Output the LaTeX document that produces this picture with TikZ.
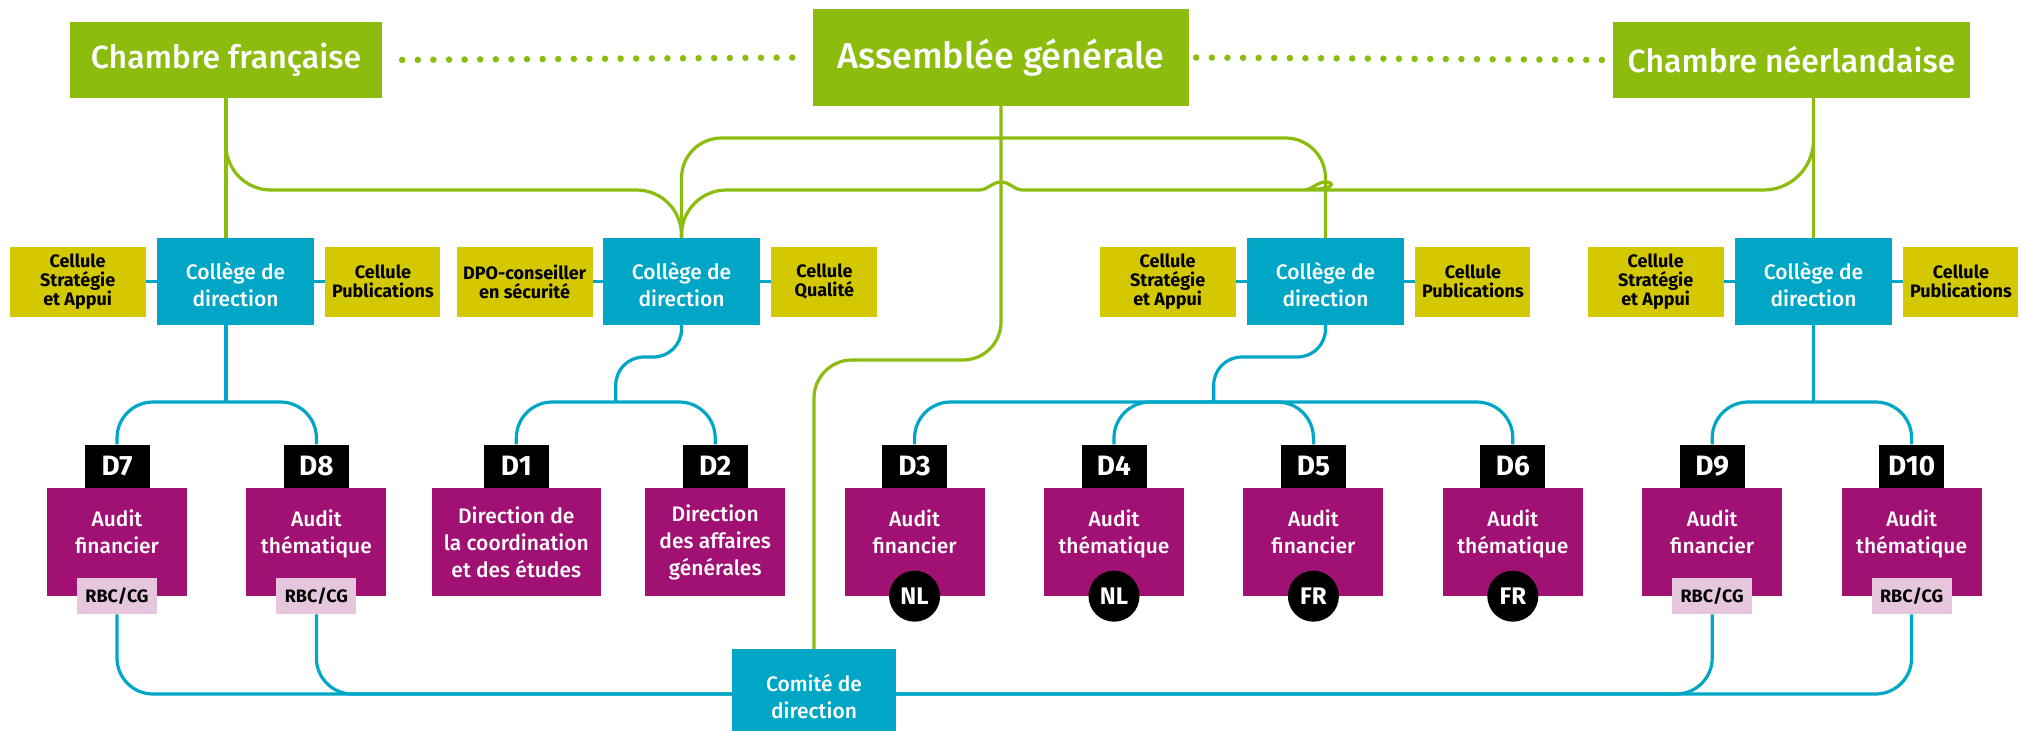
\documentclass[tikz,border=0pt]{standalone}
\usepackage{fontspec}
\setmainfont{Fira Sans}[UprightFont=* Medium, BoldFont=* Bold]
\usetikzlibrary{positioning,calc}
\definecolor{agreen}{HTML}{8BBC0E}
\definecolor{ateal}{HTML}{00A6C6}
\definecolor{aolive}{HTML}{D4C800}
\definecolor{apurple}{HTML}{A11173}
\definecolor{apink}{HTML}{E6C6DC}

\begin{document}
\begin{tikzpicture}[x=1pt,y=-1pt,
    chamber/.style={fill=agreen, text=white, minimum height=76pt, inner sep=0pt, font=\fontsize{32}{36}\selectfont},
    college/.style={fill=ateal, text=white, minimum width=157pt, minimum height=87pt, inner sep=0pt, align=center, text height=50pt, font=\fontsize{21}{27}\selectfont},
    cellule/.style={fill=aolive, text=black, minimum width=136pt, minimum height=70pt, inner sep=0pt, align=center, font=\bfseries\fontsize{18}{19}\selectfont},
    dlabel/.style={fill=black, text=white, minimum width=65pt, minimum height=43pt, inner sep=0pt, font=\bfseries\fontsize{28}{30}\selectfont},
    dbox/.style={fill=apurple, text=white, minimum width=140pt, minimum height=108pt, inner sep=0pt, align=center, font=\fontsize{21}{27}\selectfont},
    audit/.style={dbox, text depth=21pt},
    tag/.style={fill=apink, text=black, minimum width=80pt, minimum height=36pt, inner sep=0pt, font=\bfseries\fontsize{18}{20}\selectfont},
    lang/.style={circle, fill=black, text=white, minimum size=51pt, inner sep=0pt, font=\bfseries\fontsize{24}{26}\selectfont},
    greenline/.style={draw=agreen, line width=3.2pt},
    tealline/.style={draw=ateal, line width=3.2pt},
    dots/.style={draw=agreen, line width=6.5pt, line cap=round, dash pattern=on 0pt off 15.6pt}]
    \useasboundingbox (0,0) rectangle (2027,731);
    \fill[white] (0,0) rectangle (2027,731);

    % top level
    \node[chamber, minimum width=312pt] (cfr) at (226,60) {Chambre française};
    \node[chamber, minimum width=376pt, minimum height=97pt, font=\fontsize{36}{40}\selectfont] (ag) at (1001,57.5) {Assemblée générale};
    \node[chamber, minimum width=357pt] (cnl) at (1791.5,60) {Chambre néerlandaise};

    % colleges and cells
    \node[college] (col1) at (235.5,281.5)  {Collège de\\direction};
    \node[college] (col2) at (681.5,281.5)  {Collège de\\direction};
    \node[college] (col3) at (1325.5,281.5) {Collège de\\direction};
    \node[college] (col4) at (1813.5,281.5) {Collège de\\direction};

    \node[cellule]                    (csa1)  [left=11pt of col1]  {Cellule\\Stratégie\\et Appui};
    \node[cellule, minimum width=115pt] (cpub1) [right=11pt of col1] {Cellule\\Publications};
    \node[cellule]                    (dpo)   [left=10pt of col2]  {DPO-conseiller\\en sécurité};
    \node[cellule, minimum width=106pt] (cq)    [right=11pt of col2] {Cellule\\Qualité};
    \node[cellule]                    (csa3)  [left=11pt of col3]  {Cellule\\Stratégie\\et Appui};
    \node[cellule, minimum width=115pt] (cpub3) [right=11pt of col3] {Cellule\\Publications};
    \node[cellule]                    (csa4)  [left=11pt of col4]  {Cellule\\Stratégie\\et Appui};
    \node[cellule, minimum width=115pt] (cpub4) [right=11pt of col4] {Cellule\\Publications};

    % directions
    \node[audit] (b7)  at (117,542)         {Audit\\financier};
    \node[audit] (b8)  [right=59pt of b7]  {Audit\\thématique};
    \node[dbox, minimum width=169pt] (b1) [right=45pt of b8] {Direction de\\la coordination\\et des études};
    \node[dbox]  (b2)  [right=44pt of b1]  {Direction\\des affaires\\générales};
    \node[audit] (b3)  [right=59pt of b2]  {Audit\\financier};
    \node[audit] (b4)  [right=59pt of b3]  {Audit\\thématique};
    \node[audit] (b5)  [right=59pt of b4]  {Audit\\financier};
    \node[audit] (b6)  [right=59pt of b5]  {Audit\\thématique};
    \node[audit] (b9)  [right=59pt of b6]  {Audit\\financier};
    \node[audit] (b10) [right=59pt of b9]  {Audit\\thématique};

    \node[dlabel] (l7)  [above=0pt of b7]  {D7};
    \node[dlabel] (l8)  [above=0pt of b8]  {D8};
    \node[dlabel] (l1)  [above=0pt of b1]  {D1};
    \node[dlabel] (l2)  [above=0pt of b2]  {D2};
    \node[dlabel] (l3)  [above=0pt of b3]  {D3};
    \node[dlabel] (l4)  [above=0pt of b4]  {D4};
    \node[dlabel] (l5)  [above=0pt of b5]  {D5};
    \node[dlabel] (l6)  [above=0pt of b6]  {D6};
    \node[dlabel] (l9)  [above=0pt of b9]  {D9};
    \node[dlabel] (l10) [above=0pt of b10] {D10};

    \node[tag]  (t7)  at (b7.south)  {RBC/CG};
    \node[tag]  (t8)  at (b8.south)  {RBC/CG};
    \node[tag]  (t9)  at (b9.south)  {RBC/CG};
    \node[tag]  (t10) at (b10.south) {RBC/CG};
    \node[lang] (n3)  at (b3.south)  {NL};
    \node[lang] (n4)  at (b4.south)  {NL};
    \node[lang] (n5)  at (b5.south)  {FR};
    \node[lang] (n6)  at (b6.south)  {FR};

    \node[college, minimum width=164pt, minimum height=90pt] (com) at (814,694) {Comité de\\direction};

    % levels of the links
    \coordinate (gb) at (0,138);
    \coordinate (gc) at (0,190);
    \coordinate (gs) at (0,360);
    \coordinate (bs) at (0,357);
    \coordinate (bb) at (0,402);
    \coordinate (j2) at ($(l1.north)!0.5!(l2.north)$);
    \coordinate (j3) at ($(l3.north)!0.5!(l6.north)$);

    \draw[dots, shorten <=20pt, shorten >=9pt] (cfr.east) -- (ag.west);
    \draw[dots, shorten <=7pt, shorten >=10pt] (ag.east) -- (cnl.west);

    % green links
    \draw[greenline] (cfr.south) -- (cfr.south |- col1.north);
    \draw[greenline] (col4.north) -- (col4.north |- cnl.south);
    \draw[greenline, rounded corners=45pt] (cfr.south) |- (col2.north |- gc) -- (col2.north);
    \draw[greenline, rounded corners=40pt] (col2.north) |- (col3.north |- gb) -- (col3.north);
    \draw[greenline, rounded corners=38pt] (ag.south) |- (com.north |- gs) -- (com.north);
    \draw[greenline, rounded corners=50pt] (col4.north |- cnl.south) |- ($(col3.north |- gc)+(22,0)$)
        [sharp corners] to[out=180,in=0] ++(-22,-8) to[out=180,in=0] ++(-22,8)
        -- ($(ag.south |- gc)+(22,0)$) to[out=180,in=0] ++(-22,-8) to[out=180,in=0] ++(-22,8)
        [rounded corners=45pt] -| (col2.north);

    % teal links
    \draw[tealline] (csa1.east) -- (col1.west);
    \draw[tealline] (col1.east) -- (cpub1.west);
    \draw[tealline] (dpo.east) -- (col2.west);
    \draw[tealline] (col2.east) -- (cq.west);
    \draw[tealline] (csa3.east) -- (col3.west);
    \draw[tealline] (col3.east) -- (cpub3.west);
    \draw[tealline] (csa4.east) -- (col4.west);
    \draw[tealline] (col4.east) -- (cpub4.west);

    \draw[tealline] (col1.south -| cfr.south) -- (cfr.south |- bb);
    \draw[tealline, rounded corners=36pt] (l7.north) |- (l8.north |- bb) -- (l8.north);
    \draw[tealline, rounded corners=28pt] (col2.south) |- (j2 |- bs) -- (j2 |- bb);
    \draw[tealline, rounded corners=36pt] (l1.north) |- (l2.north |- bb) -- (l2.north);
    \draw[tealline, rounded corners=28pt] (col3.south) |- (j3 |- bs) -- (j3 |- bb);
    \draw[tealline, rounded corners=36pt] (l3.north) |- (l6.north |- bb) -- (l6.north);
    \draw[tealline, rounded corners=36pt] (l4.north) |- (l5.north |- bb) -- (l5.north);
    \draw[tealline] (col4.south) -- (col4.south |- bb);
    \draw[tealline, rounded corners=36pt] (l9.north) |- (l10.north |- bb) -- (l10.north);

    \draw[tealline, rounded corners=36pt] (t7.south) |- (com.west);
    \draw[tealline, rounded corners=36pt] (t8.south) |- (com.west);
    \draw[tealline, rounded corners=36pt] (t9.south) |- (com.east);
    \draw[tealline, rounded corners=36pt] (t10.south) |- (com.east);
\end{tikzpicture}
\end{document}
